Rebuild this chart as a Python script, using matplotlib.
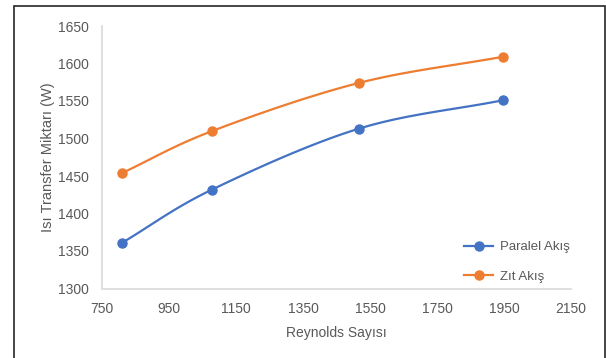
import numpy as np
import matplotlib
matplotlib.use("Agg")
import matplotlib.pyplot as plt
from matplotlib.patches import Rectangle

plt.rcParams['font.family'] = ['Liberation Sans', 'DejaVu Sans']

reynolds = [810, 1079, 1516, 1947]
paralel = [1361, 1432, 1513, 1551]
zit = [1454, 1510, 1574, 1609]
series_names = ["Paralel Akış", "Zıt Akış"]
colors = ["#4472C4", "#ED7D31"]
x_ticks = [750, 950, 1150, 1350, 1550, 1750, 1950, 2150]
y_ticks = [1300, 1350, 1400, 1450, 1500, 1550, 1600, 1650]


def smooth(x, y, n=40):
    """Catmull-Rom curve through the given points (spreadsheet-style smoothing)."""
    x = np.asarray(x, float)
    y = np.asarray(y, float)
    px = np.concatenate([[2 * x[0] - x[1]], x, [2 * x[-1] - x[-2]]])
    py = np.concatenate([[2 * y[0] - y[1]], y, [2 * y[-1] - y[-2]]])
    xs, ys = [], []
    t = np.linspace(0, 1, n)
    for i in range(1, len(px) - 2):
        p0, p1, p2, p3 = (np.array([px[j], py[j]]) for j in range(i - 1, i + 3))
        tt = t[:, None]
        pts = 0.5 * ((2 * p1) + (-p0 + p2) * tt
                     + (2 * p0 - 5 * p1 + 4 * p2 - p3) * tt ** 2
                     + (-p0 + 3 * p1 - 3 * p2 + p3) * tt ** 3)
        xs.append(pts[:, 0])
        ys.append(pts[:, 1])
    return np.concatenate(xs), np.concatenate(ys)


W, H = 606, 358
fig = plt.figure(figsize=(W / 100, H / 100), dpi=100)
ax = fig.add_axes([102 / W, 1 - 288.5 / H, (571 - 102) / W, (288.5 - 26) / H])

for vals, name, c in zip([paralel, zit], series_names, colors):
    sx, sy = smooth(reynolds, vals)
    ax.plot(sx, sy, color=c, lw=1.6, solid_capstyle='round')
    ax.plot(reynolds, vals, 'o', color=c, ms=6.5)
    ax.plot([], [], '-o', color=c, lw=1.6, ms=6.5, label=name)

ax.set_xlim(750, 2150)
ax.set_ylim(1300, 1650)
ax.set_xticks(x_ticks)
ax.set_yticks(y_ticks)
ax.tick_params(length=0, labelsize=10, labelcolor="#595959")
ax.tick_params(axis="x", pad=10)
ax.tick_params(axis="y", pad=9.5)
for s in ["top", "right"]:
    ax.spines[s].set_visible(False)
for s in ["left", "bottom"]:
    ax.spines[s].set_color("#D9D9D9")
    ax.spines[s].set_linewidth(1.2)

ax.set_xlabel("Reynolds Sayısı", fontsize=10, color="#595959", labelpad=7)
ax.set_ylabel("Isı Transfer Miktarı (W)", fontsize=10.5, color="#595959", labelpad=2)

leg = fig.legend(loc="upper left", bbox_to_anchor=(464 / W, 1 - 241 / H),
                 bbox_transform=fig.transFigure, frameon=False, borderpad=0,
                 borderaxespad=0, fontsize=9.5, labelcolor="#595959",
                 handlelength=2.2, handletextpad=0.5, labelspacing=1.3)

# outer frame
fig.patches.append(Rectangle((13.5 / W, -0.05), (604.5 - 13.5) / W, 1.05 - 6.5 / H,
                             transform=fig.transFigure, fill=False,
                             edgecolor="#262626", lw=1.2))

fig.savefig("out.png", dpi=100, facecolor="white")
